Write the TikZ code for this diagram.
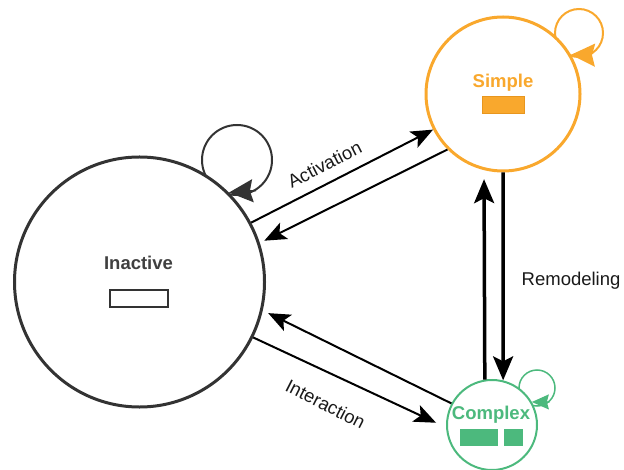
\documentclass[tikz,border=0pt]{standalone}
\usepackage{fontspec}
\setmainfont{Liberation Sans}
\usepackage{tikz}
\usetikzlibrary{arrows.meta}
\definecolor{StGray}{RGB}{51,51,51}
\definecolor{StText}{RGB}{64,64,64}
\definecolor{StOrange}{RGB}{249,168,45}
\definecolor{StOrangeDk}{RGB}{232,150,30}
\definecolor{StGreen}{RGB}{76,185,125}

\begin{document}
\begin{tikzpicture}[x=1bp, y=-1bp,
            st/.style={circle, draw, fill=white, inner sep=0pt},
            lp/.style={circle, draw, inner sep=0pt},
            slot/.style={rectangle, inner sep=0pt, minimum height=17bp},
            ttl/.style={font=\fontsize{18.5bp}{22bp}\selectfont\bfseries,
                        anchor=base, inner sep=0pt},
            lbl/.style={font=\fontsize{18.5bp}{22bp}\selectfont,
                        anchor=base, inner sep=0pt, text=black!90},
            arr/.style={-{Stealth[length=22bp, width=18bp, inset=5bp]}, draw=black, line width=2bp},
            varr/.style={-{Stealth[length=24bp, width=20bp, inset=5bp]}, draw=black, line width=3.5bp},
            larr/.style={-{Stealth[length=24bp, width=23bp, inset=3bp]}, line width=1.5bp},
            slarr/.style={-{Stealth[length=17bp, width=15bp, inset=2bp]}, line width=1.2bp}
          ]
          \useasboundingbox (0,0) rectangle (624,470);
          \node[lp, draw=StGray, line width=2bp, minimum size=70bp] (ilp) at (237,160) {};
          \node[lp, draw=StOrange, line width=2bp, minimum size=48bp] (slp) at (579,33) {};
          \node[lp, draw=StGreen, line width=1.5bp, minimum size=36bp] (clp) at (537,388) {};
          \node[st, draw=StGray, line width=3bp, minimum size=250bp] (ina) at (139.5,282) {};
          \node[st, draw=StOrange, line width=3bp, minimum size=154bp] (smp) at (503,94) {};
          \node[st, draw=StGreen, line width=2bp, minimum size=90bp] (cpx) at (492,425) {};

          \node[ttl, text=StText] (inatxt) at (138.5,270) {Inactive};
          \node[ttl, text=StOrange] (smptxt) at (503,88) {Simple};
          \node[ttl, text=StGreen] (cpxtxt) at (491,419) {Complex};
          \node[slot, fill=white, draw=StGray, line width=2bp, minimum width=58bp]
                (inabar) at (139,298.5) {};
          \node[slot, fill=StOrange, draw=StOrangeDk, line width=1bp, minimum width=42bp]
                (smpbar) at (503,105.5) {};
          \node[slot, fill=StGreen, minimum width=38bp] (cpxbar1) at (479,437.5) {};
          \node[slot, fill=StGreen, minimum width=19bp] (cpxbar2) at (513.5,437.5) {};

          \draw[larr, draw=StGray] (ilp.-58) -- (ina.45);
          \draw[larr, draw=StOrange] (slp.-62) -- (smp.30);
          \draw[slarr, draw=StGreen] (clp.-48) -- (cpx.30);

          \draw[arr] (ina.28) -- (smp.207);
          \draw[arr, shorten >=5bp] (smp.225) -- (ina.18);
          \draw[arr, shorten >=11bp] (ina.334) -- (cpx.183);
          \draw[arr, shorten >=6bp] (cpx.152) -- (ina.347);
          \draw[varr, shorten >=9bp] (cpx.99) -- (smp.256);
          \draw[varr] (smp.270) -- (cpx.76);

          \node[lbl, rotate=27] (acttxt) at (327.5,170.5) {Activation};
          \node[lbl, rotate=-27] (inttxt) at (322.5,410) {Interaction};
          \node[lbl, anchor=base west] (remtxt) at (521.5,286) {Remodeling};
        \end{tikzpicture}
\end{document}
